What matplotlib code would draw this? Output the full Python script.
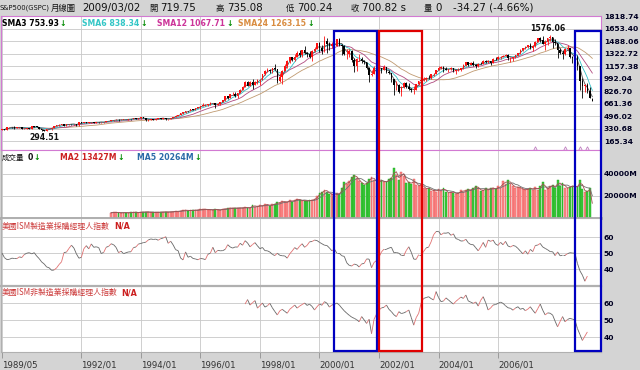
import numpy as np
import pandas as pd
import matplotlib
matplotlib.use("Agg")
import matplotlib.pyplot as plt
from matplotlib.collections import LineCollection
from matplotlib.patches import Rectangle
import matplotlib.transforms as mtransforms

CJK = ['Noto Sans CJK TC', 'DejaVu Sans']
plt.rcParams['font.family'] = ['DejaVu Sans', 'Noto Sans CJK TC']

# ---------------- data ----------------
start_month = '1989/05'
closes = [
    320.52, 317.98, 346.08, 351.45, 349.15, 340.36, 345.99, 353.40,
    329.08, 331.89, 339.94, 330.80, 361.23, 358.02, 356.15, 322.56, 306.05, 304.00, 322.22, 330.22,
    343.93, 367.07, 375.22, 375.34, 389.83, 371.16, 387.81, 395.43, 387.86, 392.46, 375.22, 417.09,
    408.79, 412.70, 403.69, 414.95, 415.35, 408.14, 424.21, 414.03, 417.80, 418.68, 431.35, 435.71,
    438.78, 443.38, 451.67, 440.19, 450.19, 450.53, 448.13, 463.56, 458.93, 467.83, 461.79, 466.45,
    481.61, 467.14, 445.77, 450.91, 456.50, 444.27, 458.26, 475.49, 462.69, 472.35, 453.69, 459.27,
    470.42, 487.39, 500.71, 514.71, 533.40, 544.75, 562.06, 561.88, 584.41, 581.50, 605.37, 615.93,
    636.02, 640.43, 645.50, 654.17, 669.12, 670.63, 639.95, 651.99, 687.31, 705.27, 757.02, 740.74,
    786.16, 790.82, 757.12, 801.34, 848.28, 885.14, 954.31, 899.47, 947.28, 914.62, 955.40, 970.43,
    980.28, 1049.34, 1101.75, 1111.75, 1090.82, 1133.84, 1120.67, 957.28, 1017.01, 1098.67, 1163.63, 1229.23,
    1279.64, 1238.33, 1286.37, 1335.18, 1301.84, 1372.71, 1328.72, 1320.41, 1282.71, 1362.93, 1388.91, 1469.25,
    1394.46, 1366.42, 1498.58, 1452.43, 1420.60, 1454.60, 1430.83, 1517.68, 1436.51, 1429.40, 1314.95, 1320.28,
    1366.01, 1239.94, 1160.33, 1249.46, 1255.82, 1224.42, 1211.23, 1133.58, 1040.94, 1059.78, 1139.45, 1148.08,
    1130.20, 1106.73, 1147.39, 1076.92, 1067.14, 989.82, 911.62, 916.07, 815.28, 885.76, 936.31, 879.82,
    855.70, 841.15, 848.18, 916.92, 963.59, 974.50, 990.31, 1008.01, 995.97, 1050.71, 1058.20, 1111.92,
    1131.13, 1144.94, 1126.21, 1107.30, 1120.68, 1140.84, 1101.72, 1104.24, 1114.58, 1130.20, 1173.82, 1211.92,
    1181.27, 1203.60, 1180.59, 1156.85, 1191.50, 1191.33, 1234.18, 1220.33, 1228.81, 1207.01, 1249.48, 1248.29,
    1280.08, 1280.66, 1294.83, 1310.61, 1270.09, 1270.20, 1276.66, 1303.82, 1335.85, 1377.94, 1400.63, 1418.30,
    1438.24, 1406.82, 1420.86, 1482.37, 1530.62, 1503.35, 1455.27, 1473.99, 1526.75, 1549.38, 1481.14, 1468.36,
    1378.55, 1330.63, 1322.70, 1385.59, 1400.38, 1280.00, 1267.38, 1282.83, 1166.36, 968.75, 896.24, 903.25,
    825.88, 735.09, 700.82]
highs = [
    325, 328, 347, 354, 354, 360, 347, 354,
    354, 336, 344, 344, 362, 368, 370, 357, 325, 314, 323, 332,
    344, 370, 380, 391, 391, 390, 391, 396, 397, 393, 398, 418,
    421, 418, 413, 418, 420, 416, 425, 425, 422, 419, 432, 438,
    442, 449, 456, 452, 453, 451, 451, 464, 463, 470, 469, 471,
    483, 482, 470, 452, 458, 462, 459, 477, 476, 474, 474, 464,
    472, 489, 507, 515, 534, 557, 564, 565, 587, 588, 608, 622,
    637, 664, 656, 660, 680, 673, 672, 666, 690, 706, 758, 762,
    794, 818, 815, 805, 850, 898, 962, 961, 961, 983, 963, 986,
    992, 1050, 1106, 1130, 1122, 1139, 1190, 1121, 1067, 1104, 1193, 1244,
    1280, 1283, 1317, 1362, 1368, 1373, 1421, 1353, 1359, 1375, 1418, 1473,
    1478, 1445, 1553, 1528, 1482, 1475, 1518, 1520, 1531, 1450, 1436, 1390,
    1384, 1376, 1268, 1269, 1316, 1287, 1236, 1218, 1143, 1111, 1163, 1173,
    1176, 1131, 1173, 1148, 1107, 1071, 993, 965, 925, 900, 954, 954,
    935, 865, 895, 925, 965, 1016, 1016, 1011, 1040, 1054, 1063, 1112,
    1155, 1159, 1164, 1150, 1127, 1146, 1141, 1109, 1131, 1141, 1183, 1218,
    1218, 1213, 1229, 1192, 1200, 1219, 1246, 1245, 1243, 1233, 1270, 1276,
    1295, 1297, 1310, 1318, 1326, 1284, 1281, 1307, 1340, 1389, 1407, 1431,
    1441, 1461, 1438, 1498, 1535, 1541, 1556, 1504, 1538, 1576.06, 1545, 1523,
    1471, 1396, 1370, 1397, 1440, 1404, 1292, 1313, 1303, 1167, 1007, 919,
    935, 877, 735.08]
lows = [
    309, 314, 316, 341, 342, 330, 337, 338,
    322, 322, 331, 329, 330, 354, 352, 321, 300, 294.51, 303, 320,
    312, 341, 365, 372, 374, 369, 370, 380, 384, 381, 371, 372,
    406, 405, 402, 401, 410, 404, 404, 410, 411, 407, 416, 429,
    426, 431, 442, 437, 439, 442, 441, 446, 451, 456, 457, 460,
    464, 466, 436, 435, 447, 442, 443, 457, 461, 460, 448, 449,
    459, 468, 486, 500, 511, 531, 542, 555, 561, 576, 579, 602,
    597, 632, 627, 626, 645, 659, 606, 638, 650, 682, 703, 720,
    737, 774, 756, 733, 798, 839, 882, 893, 898, 855, 913, 923,
    912, 970, 1045, 1076, 1074, 1075, 1114, 940, 943, 923, 1094, 1137,
    1205, 1223, 1228, 1282, 1278, 1281, 1325, 1281, 1269, 1233, 1343, 1387,
    1350, 1326, 1346, 1340, 1374, 1407, 1419, 1421, 1421, 1305, 1311, 1255,
    1275, 1215, 1081, 1091, 1232, 1203, 1183, 1124, 944, 1026, 1055, 1114,
    1081, 1075, 1104, 1063, 1049, 952, 776, 838, 800, 768, 872, 872,
    840, 818, 789, 847, 903, 958, 962, 960, 990, 993, 1031, 1056,
    1105, 1125, 1087, 1102, 1077, 1114, 1079, 1060, 1101, 1091, 1128, 1163,
    1163, 1174, 1163, 1137, 1147, 1188, 1184, 1201, 1202, 1176, 1201, 1245,
    1245, 1253, 1277, 1291, 1245, 1219, 1224, 1265, 1291, 1327, 1360, 1385,
    1403, 1389, 1364, 1416, 1481, 1484, 1448, 1370, 1439, 1489, 1406, 1435,
    1270, 1316, 1257, 1312, 1373, 1272, 1200, 1247, 1107, 840, 741, 815,
    805, 731, 700.24]
first_open = 309.64
last_open = 719.75
quote_date = '2009/03/02'

vol_start = '1993/01'
volume_m = [
    4800, 5000, 5200, 4700, 4600, 4900, 4800, 4700, 5100, 5300, 5200, 4900,
    5600, 5200, 5800, 5300, 5000, 5100, 5000, 5400, 5300, 5600, 5500, 5200,
    5900, 5600, 6400, 5900, 6700, 7000, 7200, 6800, 6900, 7100, 7000, 7400,
    7900, 7800, 8000, 7600, 7500, 7000, 8300, 7100, 7300, 8400, 8200, 8700,
    9300, 8800, 9200, 8700, 9400, 9000, 9800, 9100, 9400, 11800, 10200, 10800,
    11400, 10800, 12500, 12000, 11100, 12300, 12600, 14200, 13800, 15700, 14100, 14800,
    16200, 14800, 16500, 17400, 16300, 15700, 15900, 15100, 16000, 16400, 17000, 19800,
    22400, 23500, 25800, 24000, 22000, 21500, 20300, 22400, 21500, 27500, 33000, 30500,
    34000, 37600, 39000, 36500, 33200, 31500, 30000, 32000, 35000, 37600, 34500, 32000,
    33000, 34500, 32500, 33000, 35500, 36500, 45000, 39000, 34500, 42000, 38500, 31500,
    33000, 30500, 35000, 30000, 29000, 31000, 27000, 26500, 27500, 24500, 25500, 24000,
    26500, 24500, 27500, 23500, 22400, 24000, 23000, 22000, 22800, 25000, 24000, 25500,
    26000, 25000, 27500, 29000, 27000, 24500, 25500, 27000, 25500, 27500, 27000, 26000,
    29000, 27500, 34000, 31000, 34500, 31000, 29000, 27500, 28500, 27000, 26000, 25500,
    26500, 27500, 25500, 28000, 25500, 29000, 33000, 25500, 27000, 29000, 30000, 27000,
    34500, 29000, 31500, 27500, 27000, 28500, 29500, 28500, 28500, 34500, 26500, 23500,
    24466, 26854, 0]

ism_mfg_start = '1989/05'
ism_mfg = [
    50.0, 47.1, 45.9, 46.1, 46.8, 46.6, 46.5, 47.6,
    47.2, 49.1, 49.9, 50.2, 49.5, 50.2, 48.1, 46.5, 44.4, 43.2, 41.3, 40.8,
    39.2, 39.4, 40.7, 42.8, 44.5, 50.3, 50.6, 52.9, 54.9, 53.1, 49.5, 46.8,
    47.3, 52.7, 54.6, 52.6, 55.7, 53.6, 53.9, 53.4, 49.7, 50.4, 53.6, 54.2,
    55.8, 55.2, 53.5, 50.2, 51.2, 49.6, 50.2, 50.7, 50.8, 53.4, 53.8, 55.6,
    56.0, 56.5, 56.8, 58.2, 58.8, 58.5, 58.7, 58.0, 59.0, 59.4, 60.2, 56.1,
    57.4, 55.1, 52.1, 51.5, 46.9, 45.7, 50.7, 47.4, 48.0, 46.6, 46.3, 45.8,
    46.6, 46.4, 45.9, 49.2, 49.9, 53.6, 50.2, 51.7, 51.4, 51.5, 52.3, 55.2,
    53.8, 53.1, 53.8, 53.7, 56.1, 54.9, 57.7, 56.3, 53.9, 55.3, 56.5, 54.5,
    52.7, 53.5, 51.5, 51.4, 50.6, 49.2, 48.4, 49.9, 48.6, 48.3, 48.2, 46.8,
    49.5, 51.3, 53.4, 52.3, 54.3, 55.8, 53.6, 54.8, 57.0, 57.2, 58.1, 57.8,
    56.7, 55.8, 54.9, 54.7, 53.2, 51.4, 52.5, 49.9, 49.9, 48.3, 47.9, 43.9,
    42.3, 41.9, 43.1, 42.7, 41.3, 43.2, 43.5, 46.3, 46.2, 40.8, 44.1, 45.3,
    47.5, 50.7, 52.4, 52.4, 53.1, 53.6, 50.2, 50.3, 49.9, 48.5, 48.5, 51.6,
    53.9, 50.5, 46.2, 46.1, 49.0, 49.0, 51.0, 53.2, 53.7, 57.0, 61.4, 63.4,
    63.6, 61.4, 62.5, 62.4, 62.8, 61.1, 62.0, 59.0, 58.5, 57.5, 57.6, 58.6,
    56.4, 55.3, 55.2, 53.3, 51.4, 53.8, 56.6, 53.6, 58.1, 57.3, 58.1, 55.6,
    54.8, 56.7, 55.2, 57.3, 54.4, 53.8, 54.7, 54.3, 52.9, 51.2, 49.5, 51.4,
    49.3, 52.3, 50.9, 54.7, 55.0, 56.0, 53.8, 52.9, 52.0, 50.9, 50.8, 48.4,
    50.7, 48.3, 48.6, 48.6, 49.6, 50.2, 50.0, 49.9, 43.5, 38.9, 36.2, 32.4,
    35.6]

ism_nonmfg_start = '1997/07'
ism_nonmfg = [
    59.4, 62.0, 58.8, 60.2, 61.4, 57.0,
    58.5, 60.0, 57.6, 58.4, 59.8, 57.2, 55.0, 53.0, 55.4, 56.3, 55.1, 54.0,
    56.3, 57.5, 58.8, 57.0, 58.2, 59.1, 60.0, 58.6, 59.3, 58.0, 55.9, 57.8,
    59.4, 58.7, 60.8, 59.9, 57.6, 58.8, 59.2, 60.0, 58.8, 57.0, 55.4, 54.0,
    52.8, 51.7, 51.0, 50.2, 49.0, 52.0, 50.1, 48.0, 50.4, 42.0, 50.4, 53.5,
    55.9, 57.1, 57.5, 58.8, 56.3, 54.9, 53.1, 52.0, 54.9, 53.8, 54.2, 54.9,
    55.9, 51.5, 47.0, 51.4, 54.0, 60.1, 62.7, 63.2, 63.7, 62.6, 61.8, 66.7,
    63.2, 60.8, 61.2, 63.0, 61.8, 60.5, 59.4, 61.0, 62.2, 63.5, 62.7, 64.7,
    61.2, 60.5, 59.8, 60.6, 58.2, 61.6, 63.7, 60.2, 55.9, 57.1, 58.8, 59.1,
    59.8, 60.5, 59.8, 58.4, 57.2, 56.9, 55.8, 57.0, 57.8, 56.3, 56.9, 55.5,
    56.4, 57.8, 55.7, 54.0, 56.7, 59.4, 55.8, 53.0, 54.2, 54.0, 52.9, 49.3,
    46.0, 49.1, 52.0, 49.0, 50.3, 51.0, 50.5, 50.0, 45.0, 41.5, 38.0, 40.5,
    43.0]

price_ticks = [165.34, 330.68, 496.02, 661.36, 826.70, 992.04, 1157.38,
               1322.72, 1488.06, 1653.40, 1818.74]
volume_ticks = [20000, 40000]
ism_ticks = [40, 50, 60]
x_tick_labels = ['1989/05', '1992/01', '1994/01', '1996/01', '1998/01',
                 '2000/01', '2002/01', '2004/01', '2006/01']
boxes = [('2000/07', '2001/12', '#0000c0'),
         ('2002/01', '2003/06', '#e00000'),
         ('2008/08', None, '#0000c0')]
event_months = ['2007/04', '2008/04', '2008/10', '2009/01']


def midx(s):
    a = pd.Period(s.replace('/', '-'), freq='M')
    b = pd.Period(start_month.replace('/', '-'), freq='M')
    return (a - b).n


# ---------------- derived ----------------
closes_a = np.array(closes, float)
highs_a = np.array(highs, float)
lows_a = np.array(lows, float)
opens_a = np.concatenate([[first_open], closes_a[:-1]])
opens_a[-1] = last_open
n = len(closes_a)
xi = np.arange(n)
up = closes_a >= opens_a

sma = {k: pd.Series(closes_a).rolling(k, min_periods=1).mean().values for k in (3, 6, 12, 24)}
vol = np.array(volume_m, float)
vx = midx(vol_start) + np.arange(len(vol))
ma2 = pd.Series(vol).rolling(2, min_periods=1).mean().values
ma5 = pd.Series(vol).rolling(5, min_periods=1).mean().values

# ---------------- figure ----------------
W, H = 640, 370
fig = plt.figure(figsize=(W / 100, H / 100), dpi=100)
fig.patch.set_facecolor('#d4d4d4')
XMIN, XMAX = -0.4, 241.5
GRID = '#c8c8c8'


def add_ax(top, bottom):
    return fig.add_axes([1 / W, 1 - bottom / H, 600 / W, (bottom - top) / H])


def style(ax, ticks, labels, spine_color):
    ax.set_xlim(XMIN, XMAX)
    ax.set_facecolor('white')
    ax.set_axisbelow(True)
    ax.yaxis.tick_right()
    ax.set_yticks(ticks)
    ax.set_yticklabels(labels)
    ax.tick_params(axis='y', length=0, pad=2, labelsize=5.4, labelcolor='#000022')
    for t in ax.get_yticklabels():
        t.set_fontweight('bold')
    ax.set_xticks([midx(s) for s in x_tick_labels])
    ax.grid(True, color=GRID, lw=0.6)
    for sp in ax.spines.values():
        sp.set_color(spine_color)
        sp.set_linewidth(0.8)


ax_p = add_ax(16, 150)
ax_v = add_ax(150, 218)
ax_m = add_ax(218, 286)
ax_n = add_ax(286, 352)

# price panel
style(ax_p, price_ticks, [f'{v:.2f}' for v in price_ticks], '#d27ad2')
ax_p.set_ylim(47, 1825)
ax_p.tick_params(axis='x', length=0, labelbottom=False)
ccol = np.where(up, '#ff1010', '#000000')
ax_p.vlines(xi, lows_a, highs_a, colors=ccol, lw=0.6, zorder=3)
body_bottom = np.minimum(opens_a, closes_a)
body_h = np.maximum(np.abs(closes_a - opens_a), 3)
ax_p.bar(xi, body_h, bottom=body_bottom, width=0.65, color=ccol, lw=0, zorder=3)
sma_colors = {3: '#505050', 6: '#30c0c8', 12: '#b04a80', 24: '#c09a70'}
for k in (24, 12, 6, 3):
    ax_p.plot(xi, sma[k], color=sma_colors[k], lw=0.6, zorder=2)
ev = [midx(s) for s in event_months]
ax_p.plot(ev, [80] * len(ev), ls='none', marker='^', ms=2.5, mfc='none',
          mec='#c080c0', mew=0.6, zorder=4)
i_lo = int(np.argmin(lows_a))
i_hi = int(np.argmax(highs_a))
ax_p.annotate(f'{lows_a[i_lo]:.2f}', (i_lo, lows_a[i_lo]), xytext=(0, -1),
              textcoords='offset points', ha='center', va='top', fontsize=5.6,
              fontweight='bold', color='#111111')
ax_p.annotate(f'{highs_a[i_hi]:.2f}', (i_hi, highs_a[i_hi]), xytext=(-2, 1),
              textcoords='offset points', ha='center', va='bottom', fontsize=5.6,
              fontweight='bold', color='#111111')

# volume panel
style(ax_v, volume_ticks, [f'{v}M' for v in volume_ticks], '#b0b0b0')
ax_v.set_ylim(0, 61818)
ax_v.tick_params(axis='x', length=0, labelbottom=False)
vup = up[vx]
ax_v.bar(vx, vol, width=0.75, color=np.where(vup, '#ff8c8c', '#3ccc3c'),
         edgecolor=np.where(vup, '#e05050', '#18a018'), lw=0.3, zorder=2)
ax_v.plot(vx, ma5, color='#707070', lw=0.6, zorder=3)
ax_v.plot(vx, ma2, color='#a05050', lw=0.6, zorder=3)
ax_v.spines['bottom'].set_linewidth(2.0)
ax_v.spines['bottom'].set_color('#a8a8a8')
ax_v.spines['top'].set_color('#d27ad2')


def ism_line(ax, start, vals):
    x0 = midx(start)
    v = np.array(vals, float)
    xs = x0 + np.arange(len(v))
    pts = np.column_stack([xs, v])
    segs = np.stack([pts[:-1], pts[1:]], axis=1)
    cols = np.where(np.diff(v) > 0.8, '#e07070', '#666666')
    ax.add_collection(LineCollection(segs, colors=cols, lw=0.6, zorder=3))


style(ax_m, ism_ticks, [str(t) for t in ism_ticks], '#b0b0b0')
ax_m.set_ylim(29.4, 71.9)
ax_m.tick_params(axis='x', length=0, labelbottom=False)
ism_line(ax_m, ism_mfg_start, ism_mfg)

style(ax_n, ism_ticks, [str(t) for t in ism_ticks], '#b0b0b0')
ax_n.set_ylim(31.2, 70)
ax_n.spines['top'].set_linewidth(1.6)
ism_line(ax_n, ism_nonmfg_start, ism_nonmfg)
ax_n.set_xticklabels(x_tick_labels, ha='left')
ax_n.tick_params(axis='x', length=4, width=0.6, color='#909090', pad=2,
                 labelsize=6.2, labelcolor='#333333')

# boxes across all panels
trans = mtransforms.blended_transform_factory(ax_p.transData, fig.transFigure)
inset = 0.35
for s, e, c in boxes:
    x0 = midx(s) - 0.5 + inset
    x1 = (midx(e) + 0.5 - inset) if e else XMAX - 0.2
    fig.add_artist(Rectangle((x0, 1 - 351 / H), x1 - x0, (351 - 31) / H,
                             fill=False, ec=c, lw=1.6, transform=trans,
                             clip_on=False, zorder=20))


# ---------------- texts ----------------
def ftext(xp, yp, s, **kw):
    kw.setdefault('va', 'center')
    kw.setdefault('ha', 'left')
    return fig.text(xp / W, 1 - yp / H, s, **kw)


ARROW = '\u2193'
GREEN = '#008a00'
chg = closes_a[-1] - closes_a[-2]
pct = chg / closes_a[-2] * 100
ftext(0, 8, 'S&P500(GSPC)', fontsize=4.9, color='#111111')
ftext(51, 8, '月線圖', fontsize=6.0, family=CJK, color='#111111')
ftext(82, 8, quote_date, fontsize=7.4, color='#111111')
ftext(149, 8, '開', fontsize=6.0, family=CJK, color='#111111')
ftext(160, 8, f'{opens_a[-1]:.2f}', fontsize=7.4, color='#111111')
ftext(216, 8, '高', fontsize=6.0, family=CJK, color='#111111')
ftext(227, 8, f'{highs_a[-1]:.2f}', fontsize=7.4, color='#111111')
ftext(286, 8, '低', fontsize=6.0, family=CJK, color='#111111')
ftext(297, 8, f'{lows_a[-1]:.2f}', fontsize=7.4, color='#111111')
ftext(351, 8, '收', fontsize=6.0, family=CJK, color='#111111')
ftext(362, 8, f'{closes_a[-1]:.2f} s', fontsize=7.4, color='#111111')
ftext(424, 8, '量', fontsize=6.0, family=CJK, color='#111111')
ftext(435, 8, f'{int(vol[-1])}', fontsize=7.4, color='#111111')
ftext(453, 8, f'{chg:.2f} ({pct:.2f}%)', fontsize=7.4, color='#111111')

fig.canvas.draw()
rend = fig.canvas.get_renderer()

leg_y = 23
sma_text_colors = {3: '#000000', 6: '#33c6c6', 12: '#cc3399', 24: '#d98c40'}
leg_x = {3: 2, 6: 82, 12: 157, 24: 238}
for k in (3, 6, 12, 24):
    t = ftext(leg_x[k], leg_y, f'SMA{k} {sma[k][-1]:.2f}', fontsize=5.6,
              fontweight='bold', color=sma_text_colors[k])
    bb = t.get_window_extent(renderer=rend)
    ftext(bb.x1 + 1, leg_y, ARROW, fontsize=5.6, fontweight='bold', color=GREEN)

t = ftext(2, 157.5, '成交量', fontsize=5.4, family=CJK, color='#111111')
bb = t.get_window_extent(renderer=rend)
t2 = ftext(bb.x1 + 3, 157.5, f'{int(vol[-1])}', fontsize=5.6, fontweight='bold', color='#111111')
bb = t2.get_window_extent(renderer=rend)
ftext(bb.x1 + 1, 157.5, ARROW, fontsize=5.6, fontweight='bold', color=GREEN)
for xp, lab, val, col in [(60, 'MA2', ma2[-1], '#cc2020'), (137, 'MA5', ma5[-1], '#2a6aa8')]:
    t = ftext(xp, 157.5, f'{lab} {val:.0f}M', fontsize=5.6, fontweight='bold', color=col)
    bb = t.get_window_extent(renderer=rend)
    ftext(bb.x1 + 1, 157.5, ARROW, fontsize=5.6, fontweight='bold', color=GREEN)

for yp, lab in [(226, '美國ISM製造業採購經理人指數'), (292.5, '美國ISM非製造業採購經理人指數')]:
    t = ftext(2, yp, lab, fontsize=5.7, family=CJK, color='#cc3a3a')
    bb = t.get_window_extent(renderer=rend)
    ftext(bb.x1 + 4, yp, 'N/A', fontsize=5.8, fontweight='bold', color='#cc2020')

fig.savefig('out.png', dpi=100, facecolor=fig.get_facecolor())
